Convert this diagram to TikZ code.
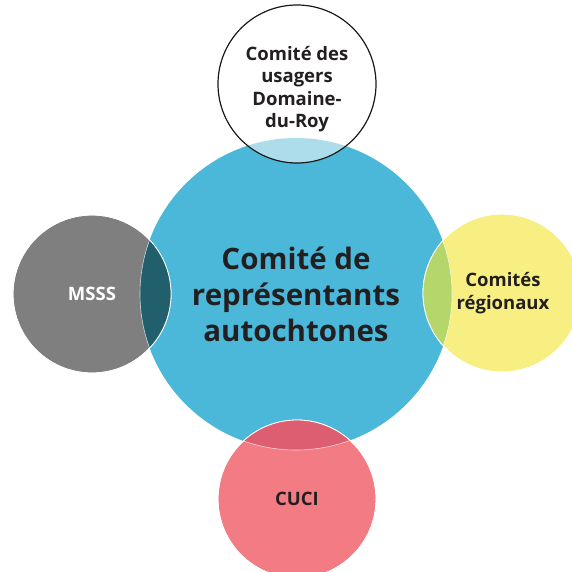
\documentclass[tikz,border=0pt]{standalone}
\usepackage{fontspec}
\setmainfont{Open Sans}

\definecolor{cblue}{HTML}{4BB8DA}
\definecolor{clightblue}{HTML}{ADDCEB}
\definecolor{cgray}{HTML}{7F7F7F}
\definecolor{cteal}{HTML}{215F6C}
\definecolor{cyellow}{HTML}{F7EF82}
\definecolor{cgreen}{HTML}{B5D66A}
\definecolor{cpink}{HTML}{F37B83}
\definecolor{cdarkpink}{HTML}{DE5E71}
\definecolor{ctext}{HTML}{231F20}

\tikzset{
  bubble/.style={circle, minimum size=158pt, inner sep=0pt, draw=white,
    line width=0.8pt},
  smalltext/.style={align=center, text=ctext,
    font=\bfseries\fontsize{18.5}{22.5}\selectfont},
  bigtext/.style={align=center, text=ctext,
    font=\bfseries\fontsize{29.5}{36}\selectfont}
}

\begin{document}
\begin{tikzpicture}[x=1pt,y=-1pt]
  \useasboundingbox (0,0) rectangle (572,571);
  \clip (0,0) rectangle (572,571);

  \node[circle, minimum size=312pt, inner sep=0pt, fill=cblue] (main) at (296,294) {};

  \node[bubble, fill=cgray] (msss) at (92,294) {};
  \node[bubble, fill=cyellow] (regions) at (502,293) {};
  \node[bubble, fill=cpink] (cuci) at (297,499) {};
  \node[bubble, fill=white, draw=none] (users) at (297,84) {};

  % overlaps
  \begin{scope}
    \clip (main.center) circle (156);
    \fill[cteal] (msss.center) circle (79);
    \fill[cgreen] (regions.center) circle (79);
    \fill[cdarkpink] (cuci.center) circle (79);
    \fill[clightblue] (users.center) circle (79);
  \end{scope}
  \foreach \n in {msss,regions,cuci}{
    \begin{scope}
      \clip (\n.center) circle (79);
      \draw[white, line width=0.6pt, opacity=0.7] (main.center) circle (156);
    \end{scope}
    \draw[white, line width=0.8pt] (\n.center) circle (79);
  }
  \draw[black!90, line width=1.2pt] (users.center) circle (79);

  \node[bigtext] (maintext) at (main.center) {Comité de\\représentants\\autochtones};
  \node[smalltext, text=white] (msstext) at (msss.center) {MSSS};
  \node[smalltext] (regtext) at ([xshift=1pt]regions.center) {Comités\\régionaux};
  \node[smalltext] (cucitext) at (cuci.center) {CUCI};
  \node[smalltext] (usertext) at ([yshift=-5pt]users.center) {Comité des\\usagers\\Domaine-\\du-Roy};
\end{tikzpicture}
\end{document}
